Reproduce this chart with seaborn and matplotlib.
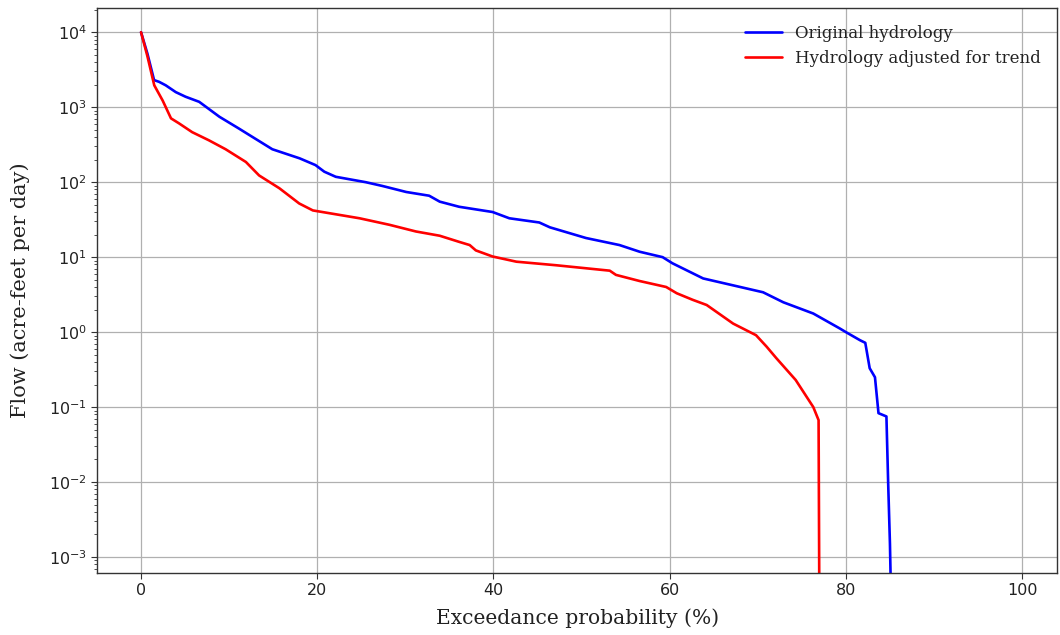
import numpy as np
import pandas as pd
import matplotlib
matplotlib.use("Agg")
import matplotlib.pyplot as plt
import matplotlib.ticker as mticker
import seaborn as sns

# Original hydrology (exceedance %, flow acre-feet/day)
orig_x = [0.0, 0.72, 1.48, 2.05, 2.8, 3.94, 5.05, 6.6, 8.9, 11.1, 12.3, 14.9, 18.0,
          19.8, 20.8, 22.1, 25.5, 27.4, 30.1, 32.7, 33.9, 36.1, 39.9, 41.8, 45.2, 46.4,
          50.5, 54.3, 56.6, 59.2, 60.3, 63.8, 68.0, 70.6, 72.9, 76.3, 79.3, 80.0, 81.6,
          82.2, 82.7, 83.3, 83.7, 84.6, 84.8, 85.0, 85.2]
orig_y = [10000, 5200, 2300, 2180, 1960, 1590, 1380, 1180, 745, 520, 425, 275, 208,
          169, 138, 118, 100, 89, 74, 66, 55, 47, 40, 33, 29, 25,
          18, 14.5, 11.8, 10, 8.3, 5.2, 4.0, 3.4, 2.5, 1.77, 1.12, 1.0, 0.78,
          0.72, 0.33, 0.25, 0.083, 0.075, 0.0095, 0.0015, 0.0001]

# Hydrology adjusted for trend
adj_x = [0.0, 0.72, 1.5, 2.45, 3.4, 4.3, 5.8, 7.7, 9.6, 11.9, 13.4, 15.7, 17.95,
         19.5, 21.7, 24.8, 28.2, 31.2, 33.9, 36.1, 37.3, 38.0, 39.9, 42.6, 47.1, 53.2,
         53.9, 56.6, 59.6, 60.8, 62.6, 64.2, 67.2, 69.8, 71.0, 72.1, 74.3, 76.3, 76.9,
         77.0]
adj_y = [10000, 4800, 1960, 1230, 710, 610, 465, 362, 275, 186, 123, 83, 52,
         42, 38, 33, 27, 22, 19.3, 16, 14.5, 12.3, 10.2, 8.7, 7.8, 6.6,
         5.8, 4.8, 4.0, 3.3, 2.7, 2.3, 1.3, 0.91, 0.64, 0.45, 0.23, 0.1, 0.067,
         0.0001]

labels = ["Original hydrology", "Hydrology adjusted for trend"]
colors = ["#0000ff", "#ff0000"]
x_ticks = [0, 20, 40, 60, 80, 100]
y_ticks = [1e-3, 1e-2, 1e-1, 1e0, 1e1, 1e2, 1e3, 1e4]

df = pd.concat([
    pd.DataFrame({"x": orig_x, "y": orig_y, "series": labels[0]}),
    pd.DataFrame({"x": adj_x, "y": adj_y, "series": labels[1]}),
])

sns.set_theme(style="whitegrid")
plt.rcParams["font.family"] = ["DejaVu Sans"]

fig = plt.figure(figsize=(10.6, 6.35), dpi=100)
ax = fig.add_axes([0.0915, 0.098, 0.906, 0.889])
ax.set_yscale("log")
sns.lineplot(data=df, x="x", y="y", hue="series", palette=dict(zip(labels, colors)),
             sort=False, estimator=None, linewidth=1.9, ax=ax)

ax.set_xlim(-5, 104)
ax.set_ylim(10**-3.21, 10**4.32)
ax.set_xticks(x_ticks)
ax.set_yticks(y_ticks)
ax.yaxis.set_major_formatter(mticker.LogFormatterSciNotation())
ax.grid(True, which="major", color="#b0b0b0", linewidth=0.9)
ax.grid(False, which="minor")
for s in ax.spines.values():
    s.set_color("#333333")
    s.set_linewidth(1.0)
ax.tick_params(axis="both", which="major", direction="out", length=4, width=0.8,
               color="#333333", labelsize=11.5, labelcolor="#222222", left=True, bottom=True)
ax.yaxis.set_minor_locator(mticker.LogLocator(base=10, subs=np.arange(2, 10), numticks=20))
ax.yaxis.set_minor_formatter(mticker.NullFormatter())
ax.tick_params(axis="y", which="minor", direction="out", length=2.5, width=0.6,
               color="#333333", left=True)

serif = ["DejaVu Serif"]
ax.set_xlabel("Exceedance probability (%)", family=serif, fontsize=14.6, color="#222222",
              labelpad=7)
ax.set_ylabel("Flow (acre-feet per day)", family=serif, fontsize=15, color="#222222",
              labelpad=13)
leg = ax.legend(loc="upper right", frameon=False, prop={"family": serif, "size": 12},
                handlelength=2.2, borderaxespad=0.6)
for t in leg.get_texts():
    t.set_color("#222222")

fig.savefig("out.png", dpi=100)
